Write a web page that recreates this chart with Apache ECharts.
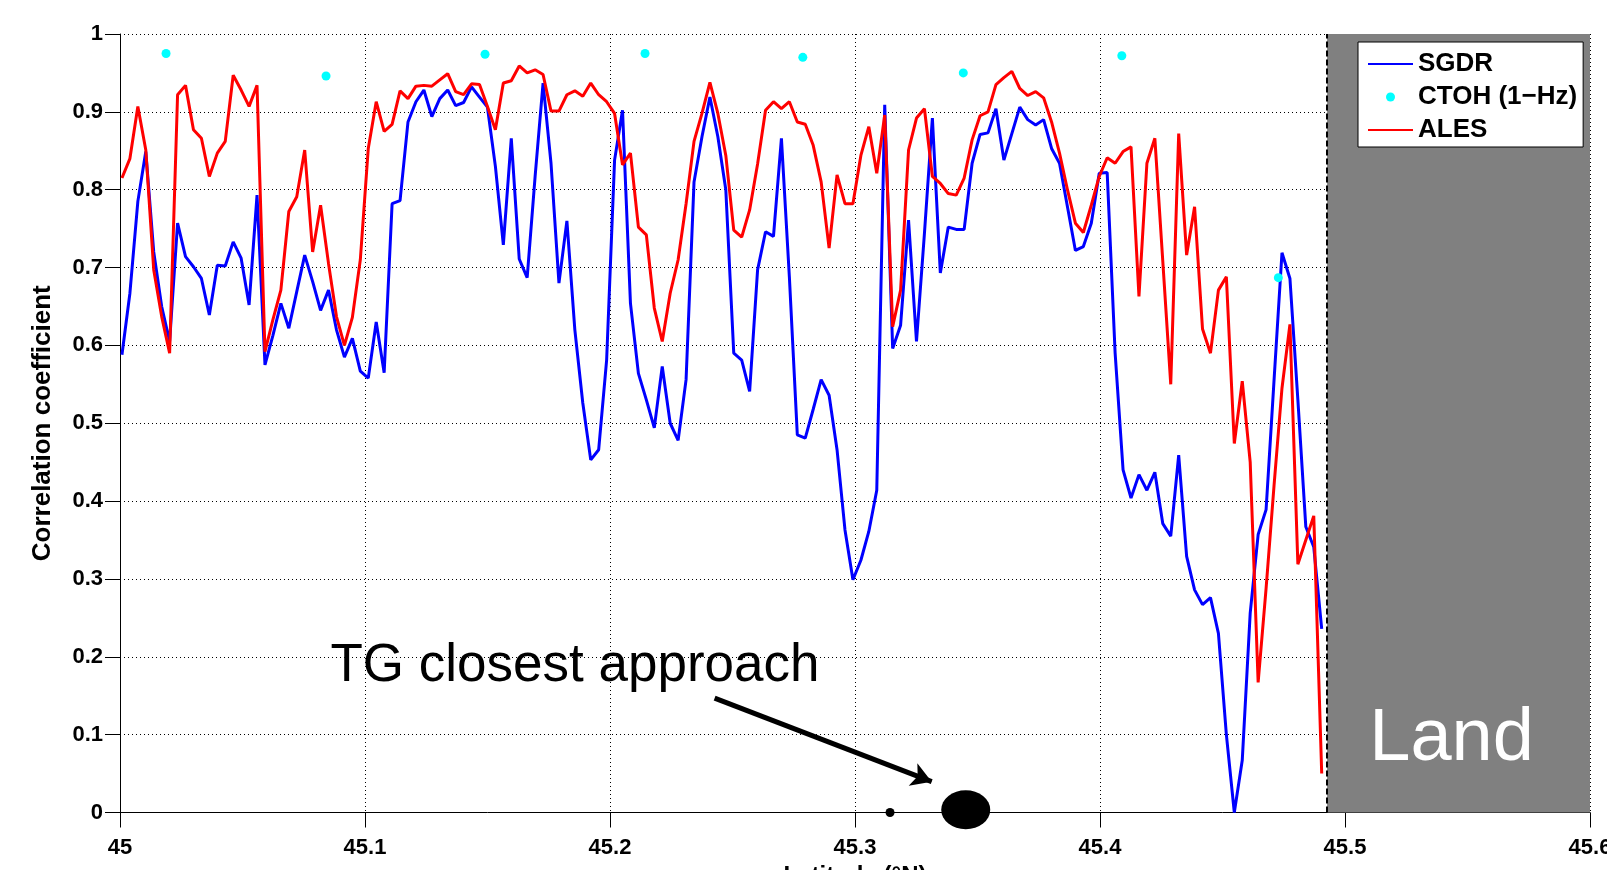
<!DOCTYPE html>
<html>
<head>
<meta charset="utf-8">
<script src="https://cdn.jsdelivr.net/npm/echarts@6/dist/echarts.min.js"></script>
<style>
html,body{margin:0;padding:0;background:#fff;}
#chart{width:1607px;height:870px;}
</style>
</head>
<body>
<div id="chart"></div>
<script>
// Along-track 20-Hz sample positions (regular spacing)
const latStart = 45.0008;
const latStep = 0.003243;

const sgdr = [
0.588,0.667,0.785,0.849,0.72,0.65,0.605,0.757,0.714,0.701,
0.686,0.639,0.703,0.702,0.733,0.712,0.652,0.793,0.575,0.613,
0.654,0.622,0.669,0.716,0.682,0.645,0.671,0.620,0.585,0.609,
0.567,0.558,0.630,0.565,0.782,0.786,0.887,0.913,0.928,0.894,
0.917,0.928,0.908,0.912,0.932,0.919,0.906,0.830,0.729,0.866,
0.711,0.687,0.817,0.937,0.834,0.680,0.760,0.620,0.526,0.453,
0.466,0.581,0.838,0.902,0.654,0.564,0.530,0.494,0.573,0.500,
0.478,0.556,0.810,0.868,0.919,0.868,0.800,0.590,0.581,0.541,
0.697,0.746,0.740,0.866,0.688,0.485,0.481,0.518,0.556,0.536,
0.466,0.363,0.299,0.324,0.361,0.414,0.909,0.596,0.626,0.761,
0.605,0.744,0.892,0.693,0.752,0.749,0.749,0.834,0.871,0.873,
0.904,0.838,0.872,0.906,0.890,0.883,0.890,0.853,0.834,0.778,
0.722,0.727,0.757,0.821,0.822,0.59,0.440,0.404,0.434,0.414,
0.437,0.371,0.355,0.459,0.329,0.286,0.267,0.276,0.230,0.10,
0.0,0.067,0.256,0.357,0.389,0.555,0.719,0.686,0.53,0.367,
0.341,0.236
];

const ales = [
0.815,0.840,0.907,0.851,0.697,0.637,0.590,0.922,0.934,0.877,
0.866,0.817,0.847,0.862,0.947,0.928,0.907,0.934,0.592,0.633,
0.671,0.772,0.791,0.851,0.720,0.780,0.705,0.637,0.600,0.636,
0.710,0.853,0.913,0.875,0.884,0.927,0.917,0.933,0.934,0.933,
0.941,0.949,0.926,0.922,0.936,0.935,0.907,0.877,0.937,0.940,
0.959,0.950,0.954,0.948,0.901,0.901,0.922,0.927,0.920,0.937,
0.922,0.913,0.898,0.832,0.847,0.752,0.742,0.648,0.605,0.667,
0.710,0.782,0.862,0.898,0.938,0.898,0.844,0.748,0.739,0.774,
0.833,0.902,0.913,0.904,0.913,0.887,0.884,0.857,0.810,0.725,
0.819,0.782,0.782,0.844,0.881,0.821,0.896,0.624,0.671,0.851,
0.892,0.904,0.817,0.808,0.795,0.793,0.815,0.864,0.895,0.900,
0.935,0.944,0.952,0.930,0.921,0.926,0.918,0.887,0.847,0.800,
0.757,0.745,0.780,0.817,0.841,0.834,0.849,0.855,0.663,0.834,
0.866,0.708,0.550,0.872,0.716,0.778,0.621,0.590,0.671,0.688,
0.474,0.554,0.450,0.167,0.288,0.42,0.545,0.627,0.319,0.35,
0.381,0.050
];

const ctohLat = [45.0188,45.0841,45.1490,45.2143,45.2787,45.3442,45.4089,45.4728];
const ctohVal = [0.975,0.946,0.974,0.975,0.970,0.950,0.972,0.687];

const xTickLabels = ['45','45.1','45.2','45.3','45.4','45.5','45.6'];
const yTickLabels = ['0','0.1','0.2','0.3','0.4','0.5','0.6','0.7','0.8','0.9','1'];

const landStart = 45.4927;
const tgLat = 45.3452;
const tgSmallLat = 45.3143;
const annotText = 'TG closest approach';
const annotPos = [45.1857, 0.188];
const arrowFrom = [45.2427, 0.147];
const arrowTo = [45.3313, 0.0396];

const FONT = '"Liberation Sans", Arial, sans-serif';
const lats = sgdr.map((_, i) => latStart + i * latStep);

const chart = echarts.init(document.getElementById('chart'));
chart.setOption({
  backgroundColor: '#fff',
  animation: false,
  textStyle: {fontFamily: FONT},
  grid: {left: 120, top: 34, width: 1470, height: 778.5, containLabel: false, outerBoundsMode: 'none'},
  legend: {
    data: [
      {name: 'SGDR', itemStyle: {opacity: 0}},
      {name: 'CTOH (1\u2212Hz)'},
      {name: 'ALES', itemStyle: {opacity: 0}}
    ],
    orient: 'vertical',
    left: 1358, top: 42,
    backgroundColor: '#fff', borderColor: '#000', borderWidth: 1,
    padding: [9, 6, 4, 9],
    itemWidth: 45, itemHeight: 9, itemGap: 7,
    textStyle: {fontSize: 26, fontWeight: 'bold', color: '#000', fontFamily: FONT}
  },
  xAxis: {
    type: 'value', min: 45, max: 45.6, interval: 0.1,
    name: 'Latitude (\u00B0N)', nameLocation: 'middle', nameGap: 52,
    nameTextStyle: {fontSize: 24, fontWeight: 'bold', color: '#000', fontFamily: FONT},
    axisLine: {show: true, lineStyle: {color: '#000', width: 1}},
    axisTick: {show: true, length: 15, lineStyle: {color: '#000'}},
    axisLabel: {fontSize: 22, fontWeight: 'bold', color: '#000', margin: 24, fontFamily: FONT,
      formatter: v => xTickLabels[Math.round((v - 45) * 10)]},
    splitLine: {show: true, lineStyle: {color: '#000', width: 1, type: [1, 3]}}
  },
  yAxis: {
    type: 'value', min: 0, max: 1, interval: 0.1,
    name: 'Correlation coefficient', nameLocation: 'middle', nameGap: 64, nameRotate: 90,
    nameTextStyle: {fontSize: 26, fontWeight: 'bold', color: '#000', fontFamily: FONT},
    axisLine: {show: true, lineStyle: {color: '#000', width: 1}},
    axisTick: {show: true, length: 15, lineStyle: {color: '#000'}},
    axisLabel: {fontSize: 22, fontWeight: 'bold', color: '#000', margin: 17, fontFamily: FONT,
      formatter: v => yTickLabels[Math.round(v * 10)]},
    splitLine: {show: true, lineStyle: {color: '#000', width: 1, type: [1, 3]}}
  },
  series: [
    {
      name: 'TG', type: 'scatter', clip: false, z: 1,
      itemStyle: {color: '#000', opacity: 1},
      data: [
        {value: [tgLat, 0.0036], symbolSize: [49, 39]},
        {value: [tgSmallLat, 0], symbolSize: 9}
      ],
      markArea: {
        silent: true,
        itemStyle: {color: '#808080', opacity: 1},
        label: {show: true, position: 'insideBottom', distance: 36, offset: [-7, 0], formatter: 'Land',
          color: '#fff', fontSize: 74, fontFamily: FONT},
        data: [[{xAxis: landStart, yAxis: 0}, {xAxis: 45.6, yAxis: 1}]]
      },
      markLine: {
        silent: true, symbol: ['none', 'none'], label: {show: false},
        lineStyle: {color: '#000', width: 2, type: [6, 3]},
        data: [[{coord: [landStart, 0]}, {coord: [landStart, 1]}]]
      }
    },
    {
      name: 'SGDR', type: 'line', symbol: 'none', z: 3,
      lineStyle: {color: '#0000ff', width: 3}, itemStyle: {color: '#0000ff'},
      data: lats.map((x, i) => [x, sgdr[i]])
    },
    {
      name: 'CTOH (1\u2212Hz)', type: 'scatter', symbolSize: 9, z: 4,
      itemStyle: {color: '#00ffff', opacity: 1},
      data: ctohLat.map((x, i) => [x, ctohVal[i]])
    },
    {
      name: 'ALES', type: 'line', symbol: 'none', z: 3,
      lineStyle: {color: '#ff0000', width: 3}, itemStyle: {color: '#ff0000'},
      data: lats.map((x, i) => [x, ales[i]])
    },
    {
      name: 'annot', type: 'scatter', z: 5, clip: false,
      symbolSize: 0,
      itemStyle: {opacity: 1},
      data: [annotPos],
      label: {show: true, position: 'inside', formatter: annotText,
        fontSize: 53, color: '#000', fontFamily: FONT},
      markLine: {
        silent: true, symbol: ['none', 'arrow'], symbolSize: [18, 20],
        label: {show: false},
        lineStyle: {color: '#000', width: 5, type: 'solid', opacity: 1},
        data: [[{coord: arrowFrom}, {coord: arrowTo}]]
      }
    }
  ]
});
</script>
</body>
</html>
